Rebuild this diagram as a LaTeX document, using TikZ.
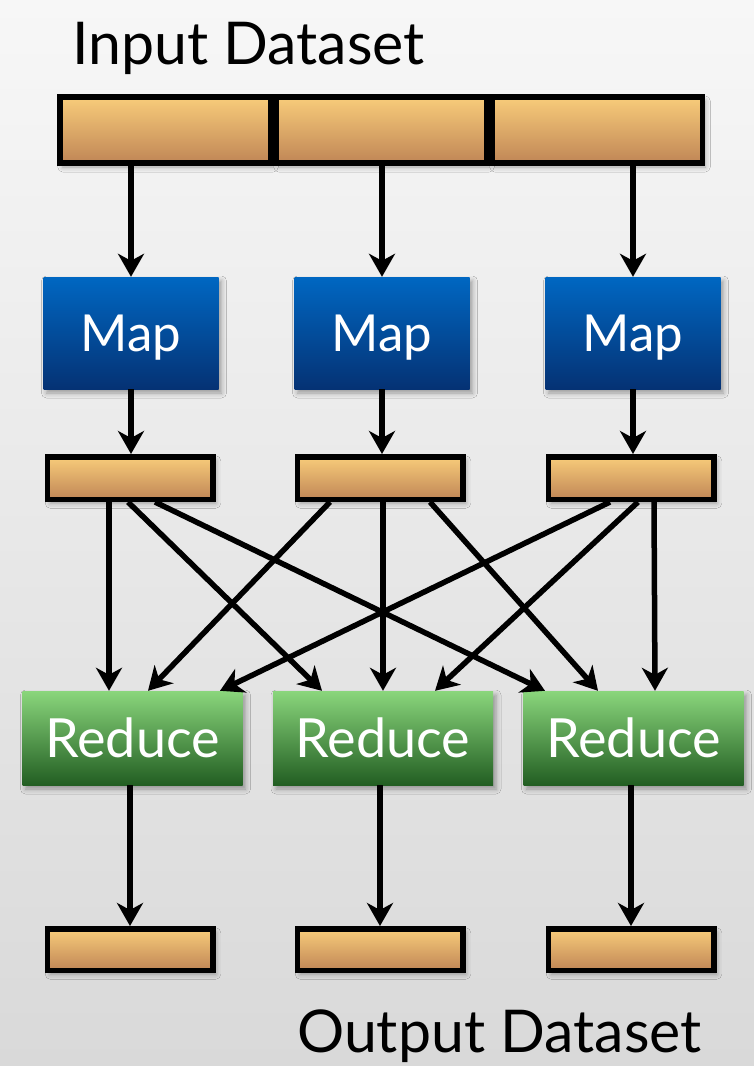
\documentclass[tikz,border=0pt]{standalone}
\usepackage{fontspec}
\setmainfont{Lato}
\usetikzlibrary{arrows.meta,shadows.blur}

\definecolor{bgTop}{HTML}{F7F7F7}
\definecolor{bgBot}{HTML}{D9D9D9}
\definecolor{barTop}{HTML}{F8CC7A}
\definecolor{barBot}{HTML}{C08656}
\definecolor{mapTop}{HTML}{0067C2}
\definecolor{mapBot}{HTML}{053274}
\definecolor{redTop}{HTML}{8AD67C}
\definecolor{redBot}{HTML}{225E22}

\begin{document}
\begin{tikzpicture}[x=1pt,y=-1pt,
  softshadow/.style={blur shadow={shadow xshift=3pt,shadow yshift=-4pt,
      shadow blur radius=5pt,shadow opacity=35}},
  databar/.style={draw=black,line width=5.5pt,inner sep=0pt,
      top color=barTop,bottom color=barBot,softshadow},
  taskbox/.style={inner sep=0pt,text=white,text depth=0pt,softshadow},
  mapbox/.style={taskbox,top color=mapTop,bottom color=mapBot,
      minimum width=175pt,minimum height=112pt,
      font=\fontsize{51}{56}\selectfont,text height=37pt},
  reducebox/.style={taskbox,top color=redTop,bottom color=redBot,
      minimum width=220pt,minimum height=94pt,
      font=\fontsize{54}{60}\selectfont,text height=39pt},
  flow/.style={line width=5.5pt,-{Stealth[length=23pt,width=26pt,inset=7pt]}},
  caption/.style={anchor=base west,inner sep=0pt,font=\fontsize{59}{64}\selectfont}
]
% background
\fill[top color=bgTop,bottom color=bgBot] (0,0) rectangle (754,1066);
\useasboundingbox (0,0) rectangle (754,1066);

% captions
\node[caption] (intitle) at (72,64) {Input Dataset};
\node[caption] (outtitle) at (297,1052) {Output Dataset};

% input dataset split into three pieces
\node[databar,minimum width=210.5pt,minimum height=66pt] (s1) at (165,130) {};
\node[databar,minimum width=210.5pt,minimum height=66pt] (s2) at (381,130) {};
\node[databar,minimum width=210.5pt,minimum height=66pt] (s3) at (597,130) {};

% map tasks
\node[mapbox] (m1) at (131,333) {Map};
\node[mapbox] (m2) at (382,333) {Map};
\node[mapbox] (m3) at (633,333) {Map};

% intermediate outputs
\foreach \i/\x in {1/130,2/380,3/631}
  \node[databar,minimum width=165.5pt,minimum height=42.5pt] (b\i) at (\x,478) {};

% reduce tasks
\node[reducebox] (r1) at (132.5,738) {Reduce};
\node[reducebox] (r2) at (383,738) {Reduce};
\node[reducebox] (r3) at (633.5,738) {Reduce};

% final outputs
\foreach \i/\x in {1/130,2/380,3/631}
  \node[databar,minimum width=165.5pt,minimum height=41.5pt] (o\i) at (\x,949.5) {};

% input -> map
\draw[flow] (s1.south -| m1.north) -- (m1.north);
\draw[flow] (s2.south -| m2.north) -- (m2.north);
\draw[flow] (s3.south -| m3.north) -- (m3.north);

% map -> intermediate
\foreach \i in {1,2,3}
  \draw[flow] (m\i.south) -- (b\i.north -| m\i.south);

% shuffle: every intermediate output feeds every reducer
\draw[flow] ([xshift=-21pt]b1.south) -- ([xshift=-23.5pt]r1.north);
\draw[flow] ([xshift=-2pt]b1.south)  -- ([xshift=-61pt]r2.north);
\draw[flow] ([xshift=25pt]b1.south)  -- ([xshift=-88.5pt]r3.north);
\draw[flow] ([xshift=-50pt]b2.south) -- ([xshift=15.5pt]r1.north);
\draw[flow] ([xshift=3pt]b2.south)   -- ([xshift=0pt]r2.north);
\draw[flow] ([xshift=50pt]b2.south)  -- ([xshift=-35.5pt]r3.north);
\draw[flow] ([xshift=-21pt]b3.south) -- ([xshift=87.5pt]r1.north);
\draw[flow] ([xshift=7pt]b3.south)   -- ([xshift=52pt]r2.north);
\draw[flow] ([xshift=23pt]b3.south)  -- ([xshift=21.5pt]r3.north);

% reduce -> output
\foreach \i in {1,2,3}
  \draw[flow] (r\i.south -| o\i.north) -- (o\i.north);
\end{tikzpicture}
\end{document}
